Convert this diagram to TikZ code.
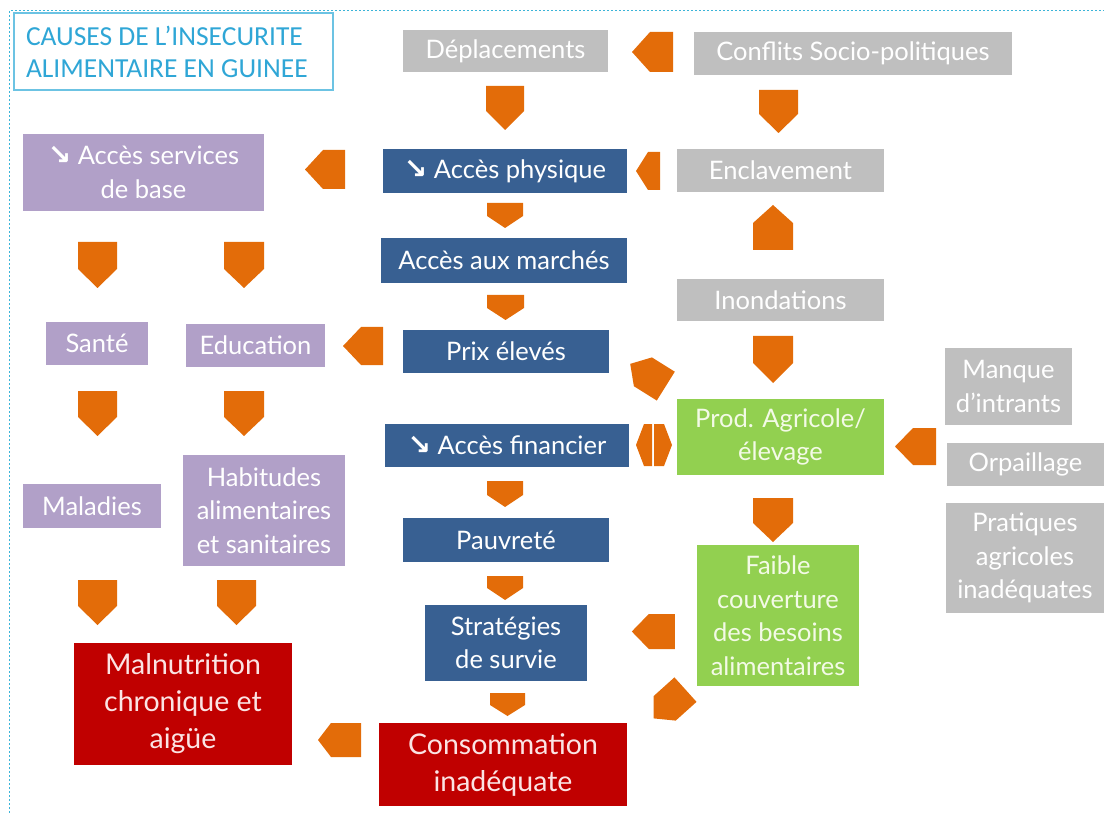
\documentclass[tikz,border=0pt]{standalone}
\usepackage{fontspec}
\setmainfont{Lato}
\newfontfamily\titlefont{Carlito}
\newfontfamily\symfont{DejaVu Sans}
\definecolor{framecol}{HTML}{3CB4D8}
\definecolor{titlecol}{HTML}{2FA6D6}
\definecolor{titleedge}{HTML}{6CC3E3}
\definecolor{boxgray}{HTML}{BFBFBF}
\definecolor{boxblue}{HTML}{386092}
\definecolor{boxpurple}{HTML}{B1A0C8}
\definecolor{boxgreen}{HTML}{92D050}
\definecolor{boxred}{HTML}{C00000}
\definecolor{arrowcol}{HTML}{E36C09}
\definecolor{greentext}{HTML}{F3FAE6}
\definecolor{redtext}{HTML}{FBE4E4}

% block arrow: centre x, centre y, direction (deg), length, width, tip depth
\newcommand\barrow[6]{%
  \fill[arrowcol, shift={(#1,#2)}, rotate=#3]
    ({-(#4)/2},{-(#5)/2}) -- ({(#4)/2-(#6)},{-(#5)/2}) -- ({(#4)/2},0)
    -- ({(#4)/2-(#6)},{(#5)/2}) -- ({-(#4)/2},{(#5)/2}) -- cycle;}
\newcommand\downicon{{\symfont\bfseries\fontsize{28}{28}\selectfont ↘}}

\begin{document}
\begin{tikzpicture}[x=1pt,y=-1pt,
  box/.style={rectangle, inner sep=2pt, align=center, text=white,
    font=\fontsize{25.5}{33.5}\selectfont},
  graybox/.style={box, fill=boxgray},
  bluebox/.style={box, fill=boxblue},
  purplebox/.style={box, fill=boxpurple},
  greenbox/.style={box, fill=boxgreen, text=greentext},
  redbox/.style={box, fill=boxred, text=redtext, font=\fontsize{28.5}{37}\selectfont},
  sz/.style 2 args={minimum width=#1, minimum height=#2}]
\useasboundingbox (0,0) rectangle (1104,813);

% dotted frame
\draw[framecol, line width=1pt, dash pattern=on 2pt off 2pt] (9,813) -- (9,11) -- (1104,11);

% title
\node[draw=titleedge, line width=1.5pt, minimum height=77, text width=295,
  inner xsep=12pt, align=flush left, text=titlecol,
  font=\titlefont\fontsize{27.5}{32}\selectfont] (title) at (173.5,51.5)
  {CAUSES DE L’INSECURITE\\ALIMENTAIRE EN GUINEE};

% boxes
\node[graybox, sz={205}{42}] (dep) at (505.5,51) {Déplacements};
\node[graybox, sz={318}{43}] (conf) at (853,53.5) {Conflits Socio-politiques};
\node[bluebox, sz={244}{44}] (phys) at (505,171) {\downicon\ Accès physique};
\node[graybox, sz={207}{43}] (encl) at (780.5,170.5) {Enclavement};
\node[purplebox, sz={241}{77}] (serv) at (143.5,172.5) {\downicon\ Accès services\\de base};
\node[bluebox, sz={246}{45}] (march) at (504,260.5) {Accès aux marchés};
\node[graybox, sz={207}{42}] (inond) at (780.5,300) {Inondations};
\node[purplebox, sz={102}{43}] (sante) at (97,343.5) {Santé};
\node[purplebox, sz={139}{43}] (educ) at (255.5,345.5) {Education};
\node[bluebox, sz={206}{43}] (prix) at (506,351.5) {Prix élevés};
\node[graybox, sz={127}{77}] (manque) at (1008.5,386.5) {Manque\\d’intrants};
\node[bluebox, sz={244}{43}] (fin) at (507,445.5) {\downicon\ Accès financier};
\node[greenbox, sz={207}{76}] (prod) at (780.5,437) {Prod. Agricole/\\élevage};
\node[graybox, sz={157}{43}] (orp) at (1025.5,464.5) {Orpaillage};
\node[purplebox, sz={138}{44}] (mal) at (92,506) {Maladies};
\node[purplebox, sz={162}{111}] (habit) at (264,510.5) {Habitudes\\alimentaires\\et sanitaires};
\node[bluebox, sz={206}{44}] (pauv) at (506,540) {Pauvreté};
\node[graybox, sz={158}{110}] (prat) at (1025,558) {Pratiques\\agricoles\\inadéquates};
\node[greenbox, sz={162}{141}] (faible) at (778,615.5) {Faible\\couverture\\des besoins\\alimentaires};
\node[bluebox, sz={162}{76}] (strat) at (506,643) {Stratégies\\de survie};
\node[redbox, sz={218}{122}] (malnut) at (183,704) {Malnutrition\\chronique et\\aigüe};
\node[redbox, sz={248}{83}] (conso) at (503,764.5) {Consommation\\inadéquate};

% block arrows
\barrow{652.5}{52}{180}{41}{40}{18}     % conf -> dep
\barrow{505}{108}{-90}{44}{38}{19}      % dep -> phys
\barrow{778.5}{111.5}{-90}{43}{39}{19}  % conf -> encl
\barrow{325}{169.5}{180}{40}{39}{18}    % phys -> serv
\barrow{648}{171}{180}{24}{38}{12}      % encl -> phys
\barrow{505}{215.5}{-90}{25}{36}{12}    % phys -> march
\barrow{773}{227.5}{90}{45}{40}{18}     % inond -> encl
\barrow{97.5}{265}{-90}{46}{39}{19}     % serv -> sante
\barrow{244}{265}{-90}{46}{40}{19}      % serv -> educ
\barrow{505.5}{307.5}{-90}{25}{37}{12}  % march -> prix
\barrow{773}{359.5}{-90}{47}{40}{20}    % inond -> prod
\barrow{363}{346}{180}{40}{38}{18}      % prix -> educ
\barrow{648}{375}{148}{42}{34}{15}      % prod -> prix
\barrow{644}{445}{180}{16}{42}{8}       % prod <-> fin
\barrow{663}{445}{0}{18}{42}{8}
\barrow{915.5}{446.5}{180}{41}{37}{18}  % right column -> prod
\barrow{773}{520}{-90}{44}{40}{19}      % prod -> faible
\barrow{505}{494}{-90}{26}{36}{12}      % fin -> pauv
\barrow{505}{588}{-90}{24}{36}{12}      % pauv -> strat
\barrow{653.3}{631.5}{180}{43}{35}{17}  % faible -> strat
\barrow{669.5}{704}{222}{43}{33}{15}    % faible -> conso
\barrow{507.5}{704.5}{-90}{23}{35}{11}  % strat -> conso
\barrow{339.5}{740}{180}{43}{34}{13}    % conso -> malnut
\barrow{97.5}{413.5}{-90}{45}{39}{19}   % sante -> mal
\barrow{244}{413.5}{-90}{45}{40}{19}    % educ -> habit
\barrow{97.5}{602.5}{-90}{45}{39}{19}   % mal -> malnut
\barrow{236.5}{602.5}{-90}{45}{39}{19}  % habit -> malnut
\end{tikzpicture}
\end{document}
